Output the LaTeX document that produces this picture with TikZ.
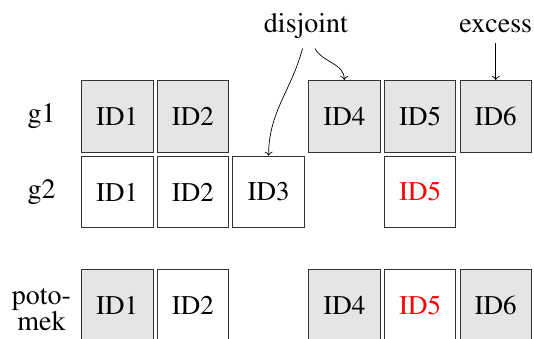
\documentclass[tikz,border=0pt]{standalone}
\usepackage[T1]{fontenc}
\usepackage{mathptmx}
\usetikzlibrary{arrows.meta}

\begin{document}
\begin{tikzpicture}[x=1pt,y=1pt,node distance=75.7pt,
  gene/.style={rectangle,draw=black!80,line width=0.9pt,minimum width=71.5pt,minimum height=71.5pt,inner sep=0pt,font=\fontsize{27}{30}\selectfont},
  par/.style={gene,fill=black!10},
  lbl/.style={font=\fontsize{28}{26}\selectfont,align=center},
  arr/.style={-{To[length=4pt,width=8pt]},line width=0.7pt}]
\useasboundingbox (0,0) rectangle (534,338);

% Parent g1
\node[par] (a1) at (117.2,221.8) {ID1};
\node[par,right of=a1] (a2) {ID2};
\node[par,right of=a2,xshift=75.7pt] (a4) {ID4};
\node[par,right of=a4] (a5) {ID5};
\node[par,right of=a5] (a6) {ID6};

% Parent g2
\node[gene,below of=a1] (b1) {ID1};
\node[gene,right of=b1] (b2) {ID2};
\node[gene,right of=b2] (b3) {ID3};
\node[gene,below of=a5,text=red] (b5) {ID5};

% Child
\node[par,below of=b1,yshift=-37.8pt] (c1) {ID1};
\node[gene,right of=c1] (c2) {ID2};
\node[par,right of=c2,xshift=75.7pt] (c4) {ID4};
\node[gene,right of=c4,text=red] (c5) {ID5};
\node[par,right of=c5] (c6) {ID6};

% Row labels
\node[lbl,left of=a1] (g1) {g1};
\node[lbl,left of=b1] (g2) {g2};
\node[lbl,left of=c1,yshift=-4pt] (child) {poto-\\mek};

% Gene kinds
\node[lbl,anchor=base] (disj) at (306,305.5) {disjoint};
\node[lbl,anchor=base] (exc) at (a6 |- disj.base) {excess};

%arcs
\draw[arr] ([xshift=-3.5pt,yshift=-6.5pt]disj.south) to[out=-105,in=90] (b3.north);
\draw[arr] ([xshift=9pt,yshift=-6.5pt]disj.south) to[out=-60,in=90] (a4.north);
\draw[arr,shorten <=7pt] (exc) -- (a6);
\end{tikzpicture}
\end{document}
